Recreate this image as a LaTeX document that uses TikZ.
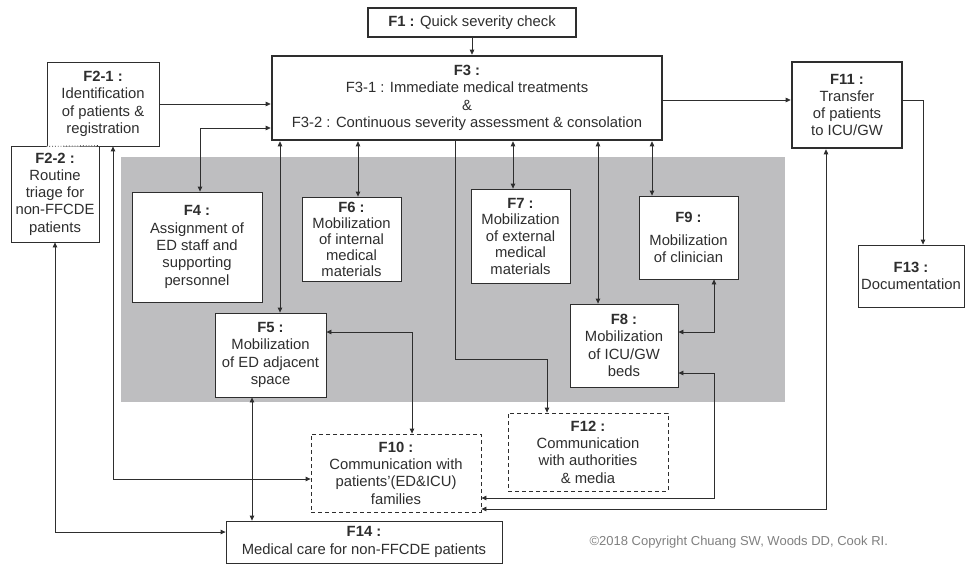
\documentclass[tikz,border=0pt]{standalone}
\usepackage{fontspec}
\setmainfont{Liberation Sans}
\usetikzlibrary{arrows.meta}
\definecolor{ink}{HTML}{2E2E2E}
\definecolor{panel}{HTML}{BEBEC0}
\definecolor{copyc}{HTML}{808080}
\begin{document}
\begin{tikzpicture}[x=1pt,y=-1pt,
  box/.style={draw=ink, fill=white, line width=0.8pt, align=center, inner sep=0pt, text=ink,
    font=\fontsize{14.8}{17.3}\selectfont},
  thickbox/.style={box, line width=2.6pt},
  dbox/.style={box, dash pattern=on 4pt off 3pt},
  tip/.tip={Triangle[length=5pt,width=4.5pt]},
  arr/.style={draw=ink, line width=0.8pt, -tip},
  darr/.style={draw=ink, line width=0.8pt, tip-tip}]
\useasboundingbox (0,0) rectangle (965,564);
% grey panel
\fill[panel] (121,157) rectangle (785,402);

% nodes
\node[thickbox, minimum width=208pt, minimum height=29pt] (f1) at (472,22.5) {\textbf{F1 :} Quick severity check};
\node[thickbox, minimum width=390pt, minimum height=84pt] (f3) at (467,98)
  {\textbf{F3 :}\\F3-1 : Immediate medical treatments\\\&\\F3-2 : Continuous severity assessment \& consolation};
\node[box, minimum width=88pt, minimum height=96pt] (f22) at (55,194)
  {\textbf{F2-2 :}\\Routine\\triage for\\non-FFCDE\\patients};
\node[box, minimum width=112pt, minimum height=84pt] (f21) at (103,104)
  {\textbf{F2-1 :}\\Identification\\of patients \&\\registration};
\node[box, minimum width=130pt, minimum height=110pt] (f4) at (197,247)
  {\textbf{F4 :}\\Assignment of\\ED staff and\\supporting\\personnel};
\node[box, minimum width=99pt, minimum height=84pt, font=\fontsize{14.8}{16}\selectfont] (f6) at (351.5,239)
  {\textbf{F6 :}\\Mobilization\\of internal\\medical\\materials};
\node[box, minimum width=99pt, minimum height=94pt, font=\fontsize{14.8}{16.5}\selectfont] (f7) at (520.5,236)
  {\textbf{F7 :}\\Mobilization\\of external\\medical\\materials};
\node[box, minimum width=99pt, minimum height=83pt] (f9) at (688.5,237.5)
  {\textbf{F9 :}\\[6pt]Mobilization\\of clinician};
\node[box, minimum width=111pt, minimum height=84pt] (f5) at (270.5,355)
  {\textbf{F5 :}\\Mobilization\\of ED adjacent\\space};
\node[box, minimum width=108pt, minimum height=83pt] (f8) at (624,345.5)
  {\textbf{F8 :}\\Mobilization\\of ICU/GW\\beds};
\node[dbox, minimum width=170pt, minimum height=78pt] (f10) at (396,473)
  {\textbf{F10 :}\\Communication with\\patients'(ED\&ICU)\\families};
\node[dbox, minimum width=160pt, minimum height=78pt] (f12) at (588,452)
  {\textbf{F12 :}\\Communication\\with authorities\\\& media};
\node[box, minimum width=276pt, minimum height=42pt] (f14) at (364,542)
  {\textbf{F14 :}\\Medical care for non-FFCDE patients};
\node[thickbox, minimum width=110pt, minimum height=86pt] (f11) at (847,105)
  {\textbf{F11 :}\\Transfer\\of patients\\to ICU/GW};
\node[box, minimum width=106pt, minimum height=62pt] (f13) at (911,276)
  {\textbf{F13 :}\\Documentation};
\node[text=copyc, font=\fontsize{13}{15}\selectfont, anchor=west] (cr) at (586,542)
  {©2018 Copyright Chuang SW, Woods DD, Cook RI.};

% dotted shared border between F2-1 and F2-2
\draw[white, line width=1.2pt] (f21.south west) -- (f22.north east);
\draw[ink, line width=0.8pt, dotted] (f21.south west) -- (f22.north east);

% connectors
\draw[arr] (f1.south) -- (f1.south |- f3.north);
\draw[arr] (f21.east) -- (f21.east -| f3.west);
\draw[darr] (f4.north -| 200,0) |- (f3.west |- 0,128);
\draw[darr] (f3.south -| 280,0) -- (f5.north -| 280,0);
\draw[darr] (f3.south -| 358,0) -- (f6.north -| 358,0);
\draw[arr] (f3.south -| 455,0) |- (547,359) -- (f12.north -| 547,0);
\draw[darr] (f3.south -| 513,0) -- (f7.north -| 513,0);
\draw[darr] (f3.south -| 598,0) -- (f8.north -| 598,0);
\draw[darr] (f3.south -| 652,0) -- (f9.north -| 652,0);
\draw[darr] (f8.east |- 0,332) -| (f9.south -| 714,0);
\draw[darr] (f8.east |- 0,373) -| (714,498) -- (f10.east |- 0,498);
\draw[darr] (f11.south -| 826,0) |- (f10.east |- 0,509);
\draw[arr] (f3.east |- 0,100) -- (f11.west |- 0,100);
\draw[arr] (f11.east |- 0,100) -| (f13.north -| 923,0);
\draw[darr] (f22.south) |- (f14.west |- 0,532);
\draw[darr] (f21.south -| 113,0) |- (f10.west |- 0,479);
\draw[darr] (f5.south -| 252,0) -- (f14.north -| 252,0);
\draw[darr] (f5.east |- 0,332) -| (f10.north -| 412,0);
\end{tikzpicture}
\end{document}
